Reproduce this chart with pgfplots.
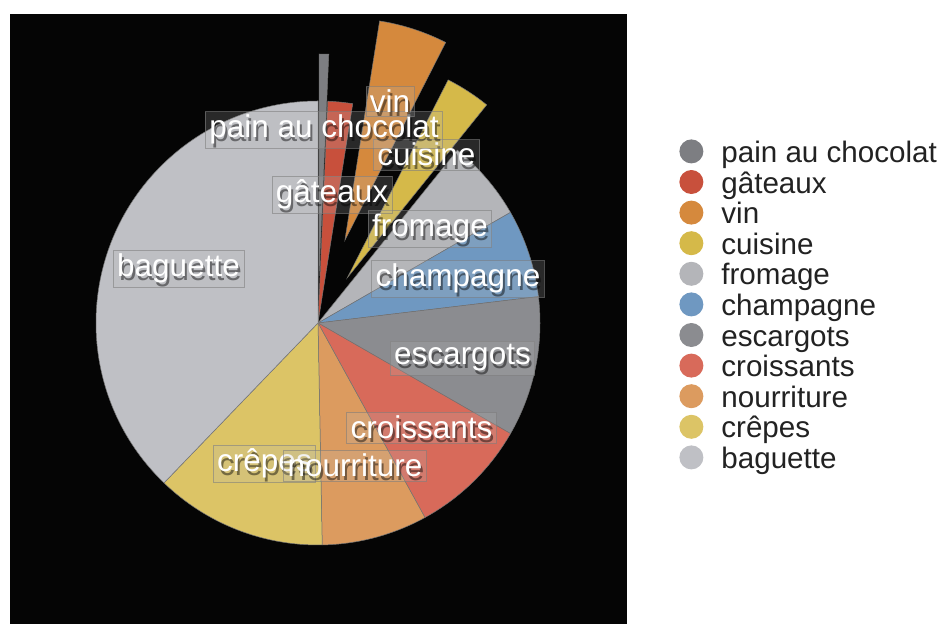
\documentclass[border=0pt]{standalone}
\usepackage{pgfplots}
\pgfplotsset{compat=1.18}
\usepackage{pgfplotstable}
\usepackage{fontspec}
\setmainfont{Liberation Sans}

\definecolor{bg}{HTML}{050505}
\definecolor{c1}{HTML}{7D7E82}
\definecolor{c2}{HTML}{C8503C}
\definecolor{c3}{HTML}{D5893D}
\definecolor{c4}{HTML}{D5B949}
\definecolor{c5}{HTML}{B4B5B9}
\definecolor{c6}{HTML}{6F98C1}
\definecolor{c7}{HTML}{8B8C90}
\definecolor{c8}{HTML}{D86A5A}
\definecolor{c9}{HTML}{DC9B5F}
\definecolor{c10}{HTML}{DCC466}
\definecolor{c11}{HTML}{BFC0C5}
\definecolor{boxfill}{HTML}{BBBBBB}
\definecolor{legtext}{HTML}{222222}

% share in percent, explode offset in px, colour
\pgfplotstableread[col sep=comma]{
label,value,explode,col
pain au chocolat,0.7,47,c1
gâteaux,1.8,0,c2
vin,5.0,87,c3
cuisine,3.3,54,c4
fromage,5.9,0,c5
champagne,6.4,0,c6
escargots,10.2,0,c7
croissants,8.7,0,c8
nourriture,7.7,0,c9
crêpes,12.5,0,c10
baguette,37.8,0,c11
}\piedata

\tikzset{
  lblbox/.style={fill=boxfill, fill opacity=0.2, draw=gray, draw opacity=0.6,
    line width=0.3pt, inner xsep=2pt, inner ysep=1.8pt,
    font=\fontsize{15.75}{16}\selectfont},
  lbltxt/.style={inner xsep=2pt, inner ysep=1.8pt, font=\fontsize{15.75}{16}\selectfont},
}
\newcommand\plabel[3]{%
  \node[lblbox, anchor=base] at (axis cs:#1,#2) {\phantom{#3}};
  \node[lbltxt, anchor=base, text=black, text opacity=0.45] at ([shift={(1.0pt,-1.8pt)}]axis cs:#1,#2) {#3};
  \node[lbltxt, anchor=base, text=white] at (axis cs:#1,#2) {#3};
}
\pgfplotsset{dotlegend/.style={legend image code/.code={\fill[##1] (0pt,1.5pt) circle (6pt);}}}

\begin{document}
\begin{tikzpicture}
\begin{axis}[
    hide axis,
    scale only axis,
    width=470pt, height=312pt,
    xmin=0, xmax=940, ymin=0, ymax=624,
    clip=false,
    legend cell align=left,
    legend style={
      at={(0.7223,0.7772)}, anchor=north west,
      draw=none, fill=none, inner sep=0pt,
      column sep=9pt, row sep=0.35pt,
      font=\fontsize{14.8}{15}\selectfont, text=legtext,
      nodes={inner xsep=0pt, inner ysep=0pt, text height=11.5pt, text depth=3.4pt},
    },
  ]
  % canvas and black panel
  \path (axis cs:0,0) rectangle (axis cs:940,624);
  \fill[bg] (axis cs:10,0) rectangle (axis cs:627,610);

  % slices, clockwise from twelve o'clock
  \pgfplotsextra{%
    \pgfplotstablegetrowsof{\piedata}%
    \pgfmathtruncatemacro\lastrow{\pgfplotsretval-1}%
    \gdef\cum{0}%
    \foreach \i in {0,...,\lastrow}{%
      \pgfplotstablegetelem{\i}{value}\of\piedata \let\val\pgfplotsretval
      \pgfplotstablegetelem{\i}{explode}\of\piedata \let\ex\pgfplotsretval
      \pgfplotstablegetelem{\i}{col}\of\piedata \let\slicecol\pgfplotsretval
      \pgfmathsetmacro\sa{90-3.6*\cum}%
      \pgfmathsetmacro\ea{90-3.6*(\cum+\val)}%
      \pgfmathsetmacro\ma{(\sa+\ea)/2}%
      \pgfmathsetmacro\exr{0.5*\ex}%
      \fill[fill=\slicecol, draw=black!55, line width=0.25pt, shift={(axis cs:318,301)}]
        (\ma:\exr pt) -- ++(\sa:111pt) arc[start angle=\sa, end angle=\ea, radius=111pt] -- cycle;
      \pgfmathsetmacro\newcum{\cum+\val}%
      \xdef\cum{\newcum}%
    }%
  }

  % slice labels
  \plabel{178.5}{347}{baguette}
  \plabel{264.5}{152}{crêpes}
  \plabel{355}{147}{nourriture}
  \plabel{421.5}{185}{croissants}
  \plabel{462.5}{259}{escargots}
  \plabel{458}{337}{champagne}
  \plabel{430}{387}{fromage}
  \plabel{426.5}{458}{cuisine}
  \plabel{332}{421}{gâteaux}
  \plabel{324}{486}{pain au chocolat}
  \plabel{390}{511}{vin}

  \addlegendimage{dotlegend, fill=c1, draw=none}
  \addlegendimage{dotlegend, fill=c2, draw=none}
  \addlegendimage{dotlegend, fill=c3, draw=none}
  \addlegendimage{dotlegend, fill=c4, draw=none}
  \addlegendimage{dotlegend, fill=c5, draw=none}
  \addlegendimage{dotlegend, fill=c6, draw=none}
  \addlegendimage{dotlegend, fill=c7, draw=none}
  \addlegendimage{dotlegend, fill=c8, draw=none}
  \addlegendimage{dotlegend, fill=c9, draw=none}
  \addlegendimage{dotlegend, fill=c10, draw=none}
  \addlegendimage{dotlegend, fill=c11, draw=none}
  \legend{pain au chocolat,gâteaux,vin,cuisine,fromage,champagne,escargots,croissants,nourriture,crêpes,baguette}
\end{axis}
\end{tikzpicture}
\end{document}
